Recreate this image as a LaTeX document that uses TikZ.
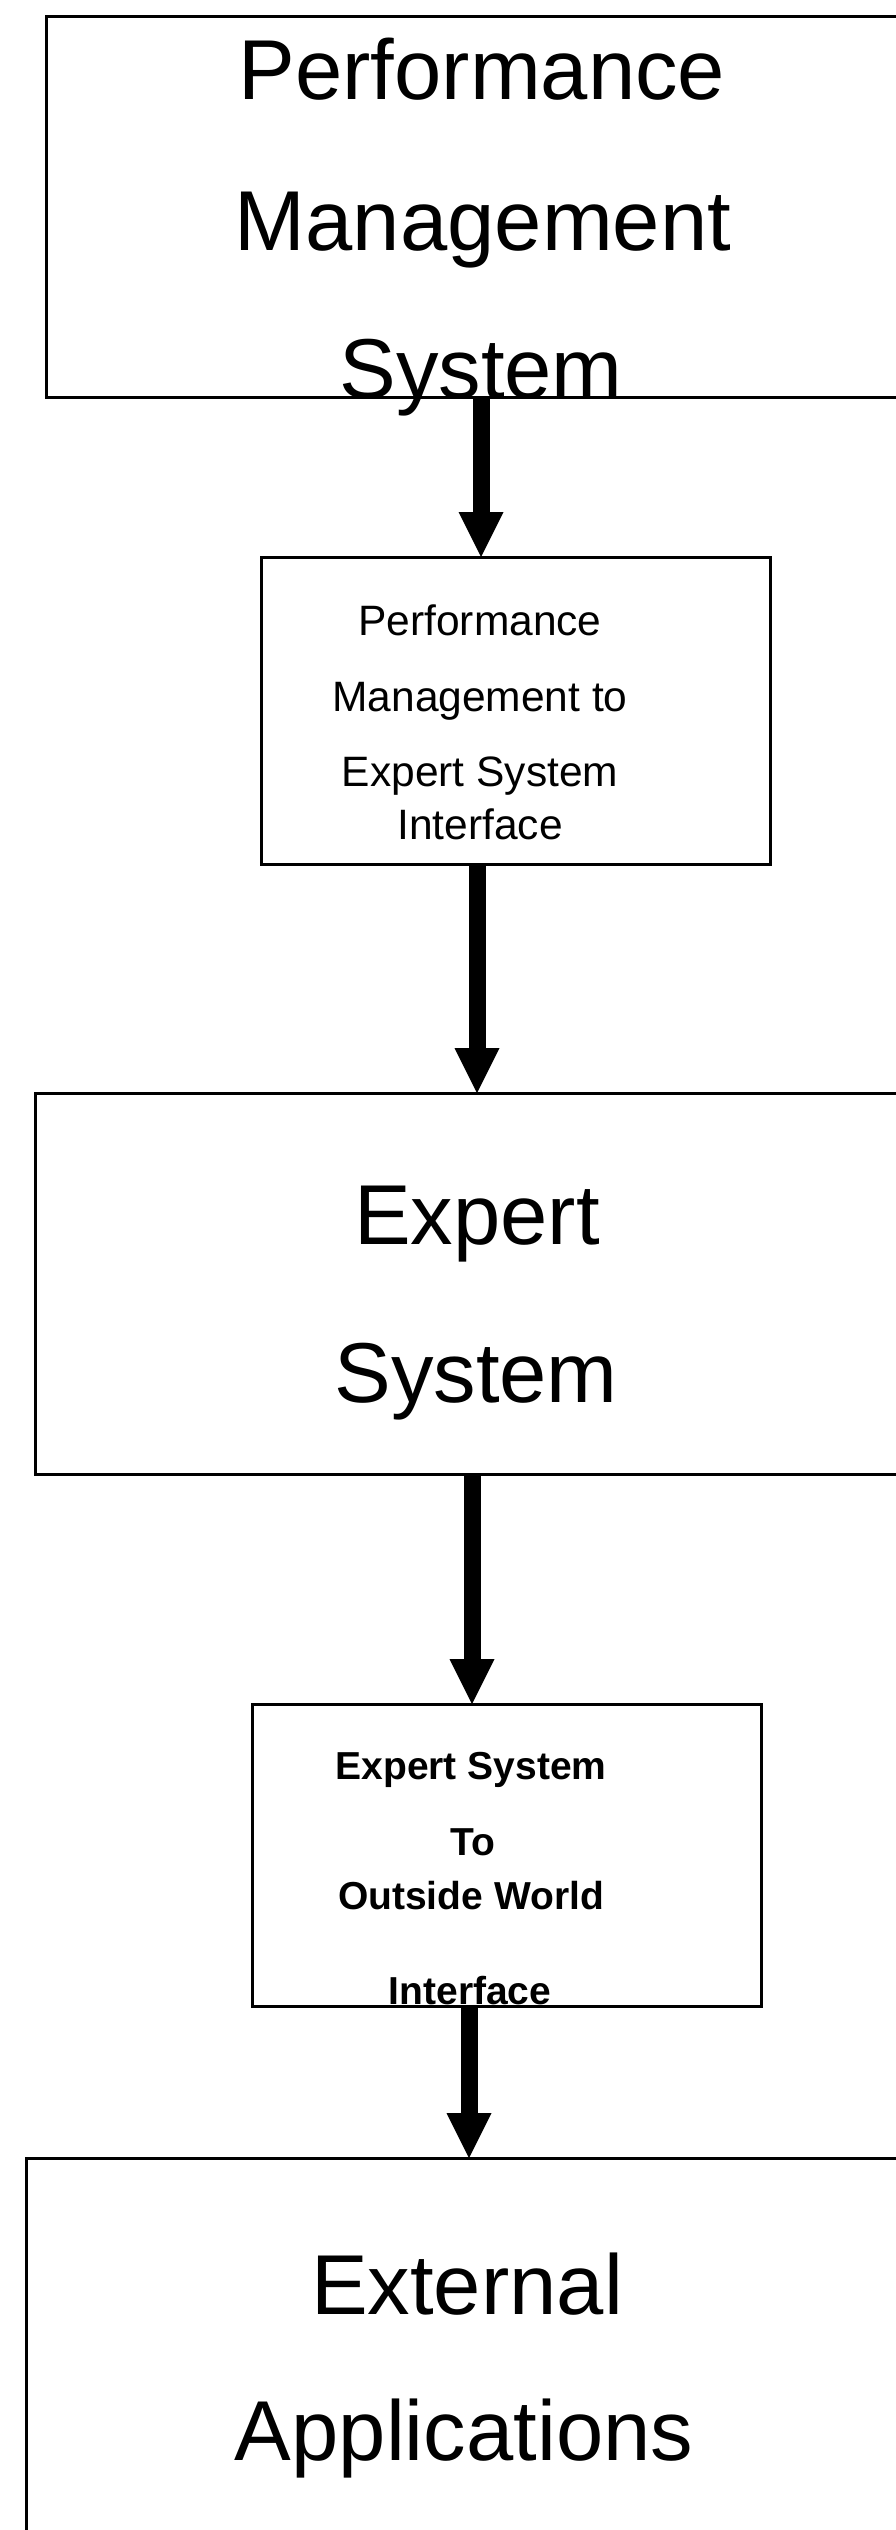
\documentclass[tikz,border=0pt]{standalone}
\usepackage{fontspec}
\setmainfont{Liberation Sans}
\usetikzlibrary{arrows.meta}
\tikzset{
  box/.style={draw=black, line width=3pt, fill=none, rectangle, outer sep=0pt, inner sep=0pt},
  bigtxt/.style={anchor=base, inner sep=0pt, font=\fontsize{85}{85}\selectfont},
  smalltxt/.style={anchor=base, inner sep=0pt, font=\fontsize{42.5}{42.5}\selectfont},
  boldtxt/.style={anchor=base, inner sep=0pt, font=\fontsize{39}{39}\selectfont\bfseries},
  arr/.style={line width=17pt, -{Triangle[width=45pt,length=45pt,line width=0pt]}}
}
\begin{document}
\begin{tikzpicture}[x=1pt, y=-1pt]
\useasboundingbox (0,0) rectangle (896,2530);
\fill[white] (0,0) rectangle (896,2530);
\clip (0,0) rectangle (896,2530);
% boxes
\node[box, minimum width=914pt, minimum height=381pt] (b1) at (503,206.5) {};
\node[box, minimum width=509pt, minimum height=307pt] (b2) at (515.5,710.5) {};
\node[box, minimum width=925pt, minimum height=381pt] (b3) at (497.5,1283.5) {};
\node[box, minimum width=509pt, minimum height=302pt] (b4) at (506.5,1855) {};
\node[box, minimum width=934pt, minimum height=442pt] (b5) at (493,2379) {};
% texts
\node[bigtxt] (t1a) at (482,99) {Performance};
\node[bigtxt] (t1b) at (483,250) {Management};
\node[bigtxt] (t1c) at (481,398) {System};
\node[smalltxt] (t2a) at (480,635) {Performance};
\node[smalltxt] (t2b) at (480,711) {Management to};
\node[smalltxt] (t2c) at (480,786) {Expert System};
\node[smalltxt] (t2d) at (480,839) {Interface};
\node[bigtxt] (t3a) at (477,1244) {Expert};
\node[bigtxt] (t3b) at (476,1402) {System};
\node[boldtxt] (t4a) at (471,1779) {Expert System};
\node[boldtxt] (t4b) at (473,1855) {To};
\node[boldtxt] (t4c) at (471,1909) {Outside World};
\node[boldtxt] (t4d) at (470,2004) {Interface};
\node[bigtxt] (t5a) at (467,2314) {External};
\node[bigtxt] (t5b) at (464,2460) {Applications};
% arrows
\coordinate (x1) at (481,0);
\coordinate (x2) at (477,0);
\coordinate (x3) at (472,0);
\coordinate (x4) at (469,0);
\draw[arr] (x1 |- b1.south) -- (x1 |- b2.north);
\draw[arr] (x2 |- b2.south) -- (x2 |- b3.north);
\draw[arr] (x3 |- b3.south) -- (x3 |- b4.north);
\draw[arr] (x4 |- b4.south) -- (x4 |- b5.north);
\end{tikzpicture}
\end{document}
